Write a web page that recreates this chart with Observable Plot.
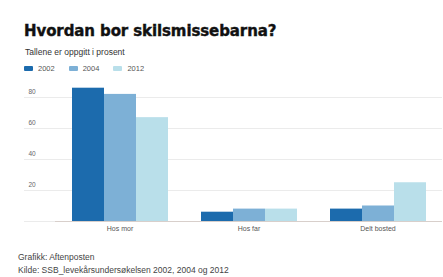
<!DOCTYPE html>
<html>
<head>
<meta charset="utf-8">
<script src="https://cdn.jsdelivr.net/npm/d3@7"></script>
<script src="https://cdn.jsdelivr.net/npm/@observablehq/plot@0.6"></script>
<style>
  html, body { margin: 0; padding: 0; background: #fff; }
  body { width: 443px; height: 277px; position: relative; overflow: hidden; font-family: "Liberation Sans", Arial, sans-serif; }
  .abs { position: absolute; white-space: nowrap; }
  #title { left: 24px; top: 22px; font-family: "DejaVu Sans", sans-serif; font-weight: bold; font-size: 15px; color: #111; letter-spacing: -0.1px; -webkit-text-stroke: 0.4px #111; }
  #subtitle { left: 25px; top: 47px; font-size: 8.5px; color: #333; }
  #legend { left: 24px; top: 64px; font-size: 7.5px; color: #555; display: flex; align-items: center; }
  #legend .item { display: flex; align-items: center; margin-right: 14px; }
  #legend .sw { width: 9px; height: 5px; border-radius: 1px; margin-right: 5px; }
  #chart { left: 0; top: 76px; }
  #footer { left: 18px; top: 251px; font-size: 8.5px; color: #444; line-height: 13px; }
</style>
</head>
<body>
<div id="title" class="abs"></div>
<div id="subtitle" class="abs"></div>
<div id="legend" class="abs"></div>
<div id="chart" class="abs"></div>
<div id="footer" class="abs"></div>
<script>
const titleText = "Hvordan bor skilsmissebarna?";
const subtitleText = "Tallene er oppgitt i prosent";
const sourceLines = ["Grafikk: Aftenposten", "Kilde: SSB_levekårsundersøkelsen 2002, 2004 og 2012"];

const categories = ["Hos mor", "Hos far", "Delt bosted"];
const years = ["2002", "2004", "2012"];
const values2002 = [86, 6, 8];
const values2004 = [82, 8, 10];
const values2012 = [67, 8, 25];
const yTicks = [20, 40, 60, 80];
const colors = ["#1c6bad", "#7db0d6", "#b9dfea"];

const series = [values2002, values2004, values2012];
const data = categories.flatMap((c, i) => years.map((y, j) => ({category: c, year: y, value: series[j][i]})));

document.getElementById("title").textContent = titleText;
document.getElementById("subtitle").textContent = subtitleText;
const legend = document.getElementById("legend");
years.forEach((y, j) => {
  const it = document.createElement("div");
  it.className = "item";
  const sw = document.createElement("div");
  sw.className = "sw";
  sw.style.background = colors[j];
  const lb = document.createElement("span");
  lb.textContent = y;
  it.appendChild(sw); it.appendChild(lb);
  legend.appendChild(it);
});
const footer = document.getElementById("footer");
footer.innerHTML = sourceLines.map(s => `<div>${s}</div>`).join("");

const chart = Plot.plot({
  width: 443,
  height: 164,
  marginLeft: 54,
  marginRight: 0,
  marginTop: 5.5,
  marginBottom: 19,
  style: {fontFamily: "'Liberation Sans', Arial, sans-serif", fontSize: "7px", color: "#555", background: "transparent"},
  fx: {domain: categories, padding: 0, label: null, axis: null},
  x: {domain: years, paddingInner: 0, paddingOuter: 0.5, axis: null},
  y: {domain: [0, 90], label: null},
  color: {domain: years, range: colors},
  marks: [
    Plot.gridY(yTicks, {stroke: "#ebebeb", strokeOpacity: 1}),
    Plot.axisY([0, ...yTicks], {anchor: "left", label: null, tickSize: 31, stroke: "#ebebeb", strokeOpacity: 1, tickFormat: () => ""}),
    Plot.text(yTicks, {y: d => d, fx: () => categories[0], frameAnchor: "left", textAnchor: "start", dx: -27, dy: -6, fill: "#666", fontSize: 6.5, text: d => String(d)}),
    Plot.barY(data, {fx: "category", x: "year", y: "value", fill: "year"}),
    Plot.ruleY([0], {stroke: "#d8cfcb"}),
    Plot.axisFx({anchor: "bottom", label: null, tickSize: 0, tickPadding: 5, fill: "#555", fontSize: 7})
  ]
});
document.getElementById("chart").appendChild(chart);
</script>
</body>
</html>
